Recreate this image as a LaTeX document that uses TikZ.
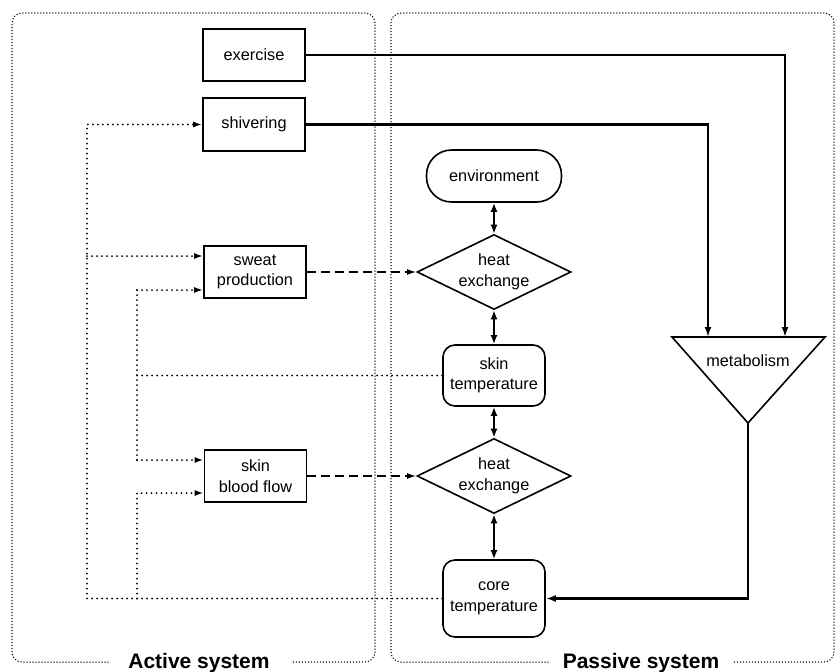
\documentclass[tikz,border=0pt]{standalone}
\usepackage{fontspec}
\setmainfont{Liberation Sans}
\usetikzlibrary{arrows.meta,shapes.geometric}
\newcommand\mylbl{\fontsize{16.3}{20.5}\selectfont}
\newcommand\mygrp{\fontsize{21}{24}\selectfont\bfseries}
\begin{document}
\begin{tikzpicture}[x=1pt,y=-1pt,
  box/.style={draw,line width=1.6pt,minimum width=102pt,minimum height=52pt,inner sep=0pt,align=center,font=\mylbl},
  rbox/.style={box,rounded corners=12pt},
  pill/.style={box,rounded corners=25pt,minimum width=135pt},
  dia/.style={draw,diamond,shape aspect=2.05,line width=1.6pt,minimum width=154pt,minimum height=75pt,inner sep=0pt,align=center,font=\mylbl},
  solidarrow/.style={line width=2.4pt,-{Latex[length=10pt,width=7pt]}},
  dbl/.style={line width=2.4pt,{Latex[length=9pt,width=7pt]}-{Latex[length=9pt,width=7pt]}},
  dsh/.style={line width=1.6pt,dash pattern=on 9pt off 5pt,-{Latex[length=9pt,width=6pt]}},
  fbline/.style={line width=2pt,line cap=round,dash pattern=on 0pt off 5pt},
  fb/.style={fbline,-{Latex[length=9pt,width=6pt]}},
  cont/.style={line width=1.5pt,line cap=round,dash pattern=on 0pt off 3pt,rounded corners=10pt},
  grp/.style={font=\mygrp,anchor=base,inner sep=0pt}]
\useasboundingbox (0,0) rectangle (836,672);

% containers
\draw[cont] (108,662) -- (12,662) -- (12,13) -- (375,13) -- (375,662) -- (293,662);
\node[grp] (act) at (199,668) {Active system};
\draw[cont] (548,662) -- (391,662) -- (391,13) -- (834,13) -- (834,662) -- (733,662);
\node[grp] (pas) at (641,668) {Passive system};

% active nodes
\node[box] (exer) at (254,55) {exercise};
\node[box,minimum height=53pt] (shiv) at (254,124.5) {shivering};
\node[box] (sweat) at (255,272) {sweat\\production};
\node[box] (blood) at (255.5,476) {skin\\blood flow};

% passive nodes
\node[pill] (env) at (494,176) {environment};
\node[dia] (he1) at (494,272) {heat\\exchange};
\node[rbox,minimum height=61pt] (skin) at (494,375.5) {skin\\temperature};
\node[dia] (he2) at (494,476) {heat\\exchange};
\node[rbox,minimum height=77pt] (core) at (494,598.5) {core\\temperature};

% metabolism triangle
\coordinate (mtl) at (672,337);
\coordinate (mtr) at (825,337);
\coordinate (map) at (748,423);
\draw[line width=1.6pt,line join=miter] (mtl) -- (mtr) -- (map) -- cycle;
\node[font=\mylbl,inner sep=0pt] (met) at (748,361) {metabolism};

% solid arrows
\coordinate (m1) at (708,337);
\coordinate (m2) at (785,337);
\draw[solidarrow] (exer.east) -| (m2);
\draw[solidarrow] (shiv.east) -| (m1);
\draw[solidarrow] (map) |- (core.east);

% double arrows
\draw[dbl] (env.south) -- (he1.north);
\draw[dbl] (he1.south) -- (skin.north);
\draw[dbl] (skin.south) -- (he2.north);
\draw[dbl] (he2.south) -- (core.north);

% dashed
\draw[dsh] (sweat.east) -- (he1.west);
\draw[dsh] (blood.east) -- (he2.west);

% feedback
\coordinate (xa) at (87,0);
\coordinate (xb) at (137,0);
\coordinate (swU) at ([yshift=16pt]sweat.west);
\coordinate (swL) at ([yshift=-18pt]sweat.west);
\coordinate (bfU) at ([yshift=16pt]blood.west);
\coordinate (bfL) at ([yshift=-17pt]blood.west);
\draw[fb] (core.west) -- (core.west -| xa) -- (shiv.west -| xa) -- (shiv.west);
\draw[fb] (swU -| xa) -- (swU);
\draw[fbline] (skin.west) -- (skin.west -| xb);
\draw[fbline] (swL -| xb) -- (bfU -| xb);
\draw[fb] (swL -| xb) -- (swL);
\draw[fb] (bfU -| xb) -- (bfU);
\draw[fb] (core.west -| xb) -- (bfL -| xb) -- (bfL);
\end{tikzpicture}
\end{document}
